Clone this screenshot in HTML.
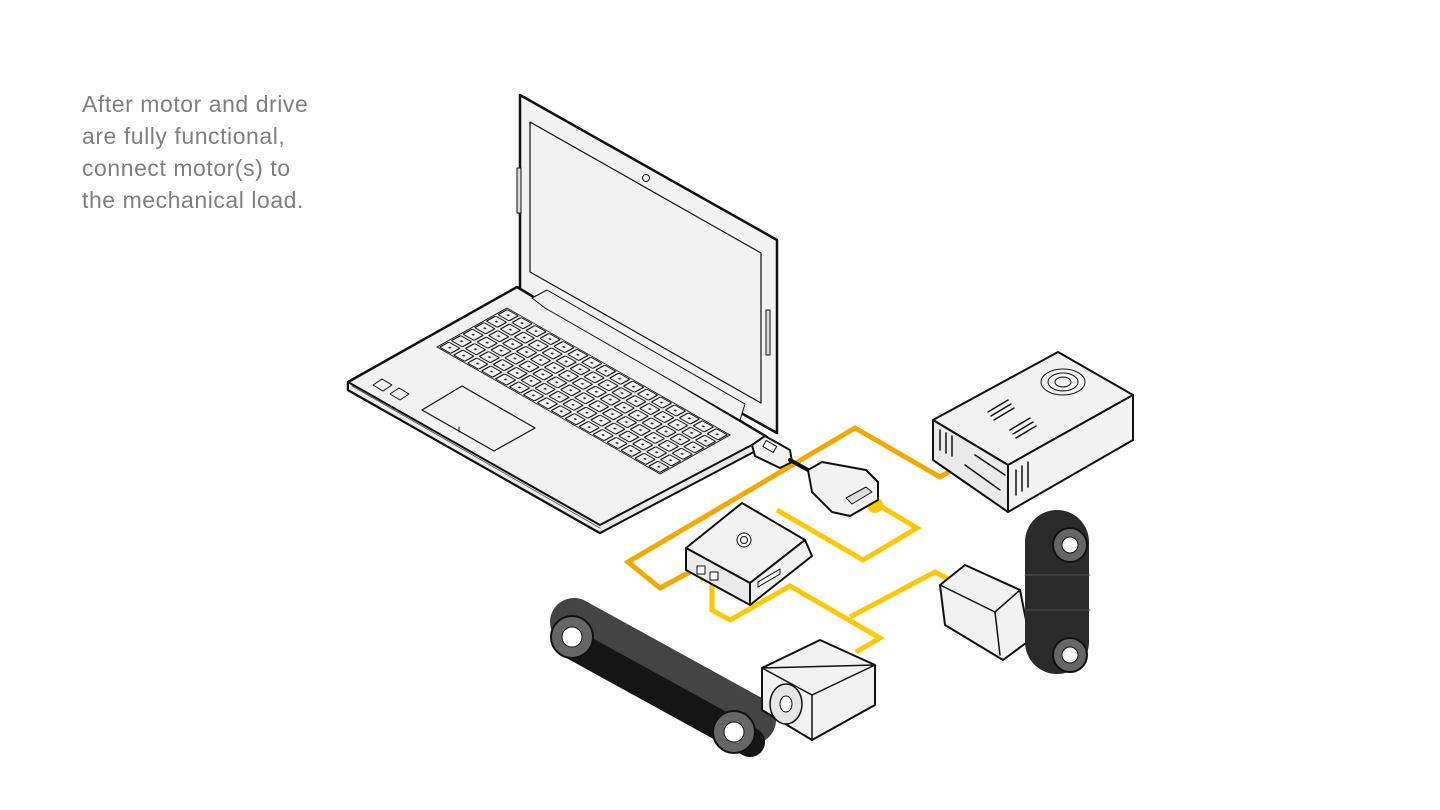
<!DOCTYPE html>
<html><head><meta charset="utf-8"><style>
html,body{margin:0;padding:0;background:#fff;}
.t{position:absolute;left:82px;top:88px;font-family:"Liberation Sans",sans-serif;font-size:23px;letter-spacing:0.55px;line-height:32px;color:#7f7f7f;}
</style></head><body>
<div style="position:relative;width:1440px;height:810px;overflow:hidden;">
<div class="t">After motor and drive<br>are fully functional,<br>connect motor(s) to<br>the mechanical load.</div>
<svg width="1440" height="810" style="position:absolute;left:0;top:0" stroke-linejoin="round" stroke-linecap="round">
<defs>
<pattern id="keys" width="14" height="14" patternUnits="userSpaceOnUse">
<rect x="1.5" y="1.5" width="11" height="11" rx="1" fill="#f2f2f2" stroke="#111" stroke-width="1.2"/>
<rect x="6" y="6" width="2" height="2" fill="#222"/>
</pattern>
</defs>
<!-- laptop lid -->
<polygon points="520,95 777,240 777,433 520,290" fill="#f2f2f2" stroke="#111" stroke-width="2.5"/>
<polygon points="530,122 761,253 761,403 530,272" fill="#f2f2f2" stroke="#111" stroke-width="1.2"/>
<circle cx="646" cy="178" r="3.5" fill="none" stroke="#111"/>
<rect x="517" y="168" width="4" height="45" fill="#ddd" stroke="#111"/>
<rect x="766" y="310" width="4" height="45" fill="#ddd" stroke="#111"/>
<!-- base -->
<polygon points="348,382 517,287 767,437 600,533 348,390" fill="#f2f2f2" stroke="#111" stroke-width="2.5"/>
<polygon points="348,382 600,525 767,437 767,445 600,533 348,390" fill="#eaeaea" stroke="#111" stroke-width="2"/>
<line x1="352" y1="386" x2="600" y2="528" stroke="#555" stroke-width="0.8"/>
<!-- hinge -->
<polygon points="532,298 547,290 745,404 740,420 545,308" fill="#f2f2f2" stroke="#111" stroke-width="1"/>
<!-- keyboard -->
<g transform="matrix(0.9957,0.567,-0.8333,0.4643,507,308)">
<rect x="0" y="0" width="224" height="84" fill="url(#keys)" stroke="#111" stroke-width="1"/>
</g>
<!-- trackpad -->
<polygon points="422,410 462,386 535,428 494,451" fill="#f2f2f2" stroke="#111" stroke-width="1.2"/>
<line x1="459" y1="427" x2="459" y2="432" stroke="#111"/>
<polygon points="373,385 382,379 392,385 383,391" fill="none" stroke="#111"/>
<polygon points="390,394 399,388 409,394 400,400" fill="none" stroke="#111"/>
<!-- connectors -->
<g fill="none" stroke-width="5" stroke-linecap="butt" stroke-linejoin="miter">
<polyline points="690,572 660,588 628,562 855,428 940,477 957,467" stroke="#F5A800"/>
<polyline points="777,510 863,560 917,528 875,503" stroke="#FFC800"/>
<polyline points="712,578 712,610 730,620 790,586 880,638 856,652" stroke="#FFC800"/>
<polyline points="850,617 935,572 950,580" stroke="#FFC800"/>
<polyline points="700,580 720,570" stroke="#FFC800"/>
</g>
<circle cx="957" cy="467" r="8" fill="#F5A800"/>
<circle cx="875" cy="505" r="8" fill="#FFC800"/>
<!-- usb plug -->
<polygon points="752,445 765,436 790,450 792,462 780,468 755,456" fill="#f2f2f2" stroke="#111" stroke-width="2"/>
<rect x="764" y="443" width="12" height="7" fill="#fff" stroke="#111" transform="rotate(30 770 446)"/>
<line x1="790" y1="460" x2="808" y2="470" stroke="#111" stroke-width="4"/>
<!-- DB9 adapter -->
<path d="M808,470 L822,462 L866,470 L878,482 L878,500 L850,516 L832,512 L812,492 Z" fill="#f2f2f2" stroke="#111" stroke-width="2"/>
<polygon points="846,498 866,487 872,492 852,504" fill="#ddd" stroke="#111"/>
<!-- drive -->
<polygon points="686,548 742,503 805,540 750,583" fill="#f2f2f2" stroke="#111" stroke-width="2"/>
<polygon points="686,548 750,583 750,605 686,570" fill="#eaeaea" stroke="#111" stroke-width="2"/>
<polygon points="750,583 805,540 812,556 750,605" fill="#f2f2f2" stroke="#111" stroke-width="2"/>
<circle cx="744" cy="540" r="7" fill="none" stroke="#111"/>
<circle cx="744" cy="540" r="3.5" fill="none" stroke="#111"/>
<polygon points="758,582 780,569 780,574 758,587" fill="#fff" stroke="#111"/>
<rect x="697" y="566" width="8" height="8" fill="#fff" stroke="#111"/>
<rect x="710" y="572" width="8" height="8" fill="#fff" stroke="#111"/>
<!-- power supply -->
<polygon points="933,420 1058,352 1133,395 1008,465" fill="#f2f2f2" stroke="#111" stroke-width="2"/>
<polygon points="933,420 1008,465 1008,512 933,460" fill="#eaeaea" stroke="#111" stroke-width="2"/>
<polygon points="1008,465 1133,395 1133,440 1008,512" fill="#f2f2f2" stroke="#111" stroke-width="2"/>
<ellipse cx="1063" cy="382" rx="22" ry="13" fill="none" stroke="#111" stroke-width="1"/>
<ellipse cx="1063" cy="382" rx="15" ry="9" fill="none" stroke="#111" stroke-width="1"/>
<ellipse cx="1063" cy="382" rx="8" ry="5" fill="none" stroke="#111" stroke-width="1"/>
<g stroke="#111" stroke-width="1.5">
<line x1="988" y1="412" x2="1008" y2="400"/><line x1="991" y1="416" x2="1011" y2="404"/><line x1="994" y1="420" x2="1014" y2="408"/>
<line x1="1010" y1="430" x2="1030" y2="418"/><line x1="1013" y1="434" x2="1033" y2="422"/><line x1="1016" y1="438" x2="1036" y2="426"/>
<line x1="940" y1="430" x2="940" y2="450"/><line x1="946" y1="433" x2="946" y2="453"/><line x1="952" y1="436" x2="952" y2="456"/>
<line x1="1016" y1="470" x2="1016" y2="495"/><line x1="1022" y1="466" x2="1022" y2="491"/><line x1="1028" y1="462" x2="1028" y2="487"/>
<line x1="965" y1="465" x2="1000" y2="490"/><line x1="975" y1="455" x2="1005" y2="475"/>
</g>
<!-- left belt -->
<line x1="574" y1="622" x2="752" y2="720" stroke="#444" stroke-width="48"/>
<line x1="572" y1="644" x2="750" y2="742" stroke="#151515" stroke-width="30"/>
<circle cx="572" cy="637" r="21" fill="#666" stroke="#111" stroke-width="2"/>
<circle cx="572" cy="637" r="10" fill="#fff" stroke="#111"/>
<circle cx="734" cy="732" r="21" fill="#666" stroke="#111" stroke-width="2"/>
<circle cx="734" cy="732" r="10" fill="#fff" stroke="#111"/>
<!-- left motor -->
<polygon points="762,668 820,640 875,665 875,705 812,740 762,710" fill="#f2f2f2" stroke="#111" stroke-width="2"/>
<polygon points="762,668 812,695 875,665" fill="none" stroke="#111" stroke-width="1.5"/>
<line x1="812" y1="695" x2="812" y2="740" stroke="#111" stroke-width="1.5"/>
<ellipse cx="786" cy="704" rx="16" ry="20" fill="#e6e6e6" stroke="#111" stroke-width="1.5"/>
<ellipse cx="786" cy="704" rx="6" ry="8" fill="#fff" stroke="#111"/>
<!-- right motor -->
<polygon points="940,585 965,565 1020,590 1030,640 1003,660 945,625" fill="#f2f2f2" stroke="#111" stroke-width="2"/>
<polyline points="940,585 995,612 1020,590" fill="none" stroke="#111" stroke-width="1.5"/>
<line x1="995" y1="612" x2="1000" y2="655" stroke="#111" stroke-width="1.5"/>
<!-- right belt -->
<line x1="1057" y1="542" x2="1057" y2="642" stroke="#2a2a2a" stroke-width="64"/>
<line x1="1025" y1="575" x2="1090" y2="575" stroke="#555" stroke-width="1"/>
<line x1="1025" y1="610" x2="1090" y2="610" stroke="#555" stroke-width="1"/>
<circle cx="1070" cy="545" r="17" fill="#666" stroke="#111" stroke-width="2"/>
<circle cx="1070" cy="545" r="8" fill="#fff" stroke="#111"/>
<circle cx="1070" cy="655" r="17" fill="#666" stroke="#111" stroke-width="2"/>
<circle cx="1070" cy="655" r="8" fill="#fff" stroke="#111"/>
</svg>
</div>
</body></html>
